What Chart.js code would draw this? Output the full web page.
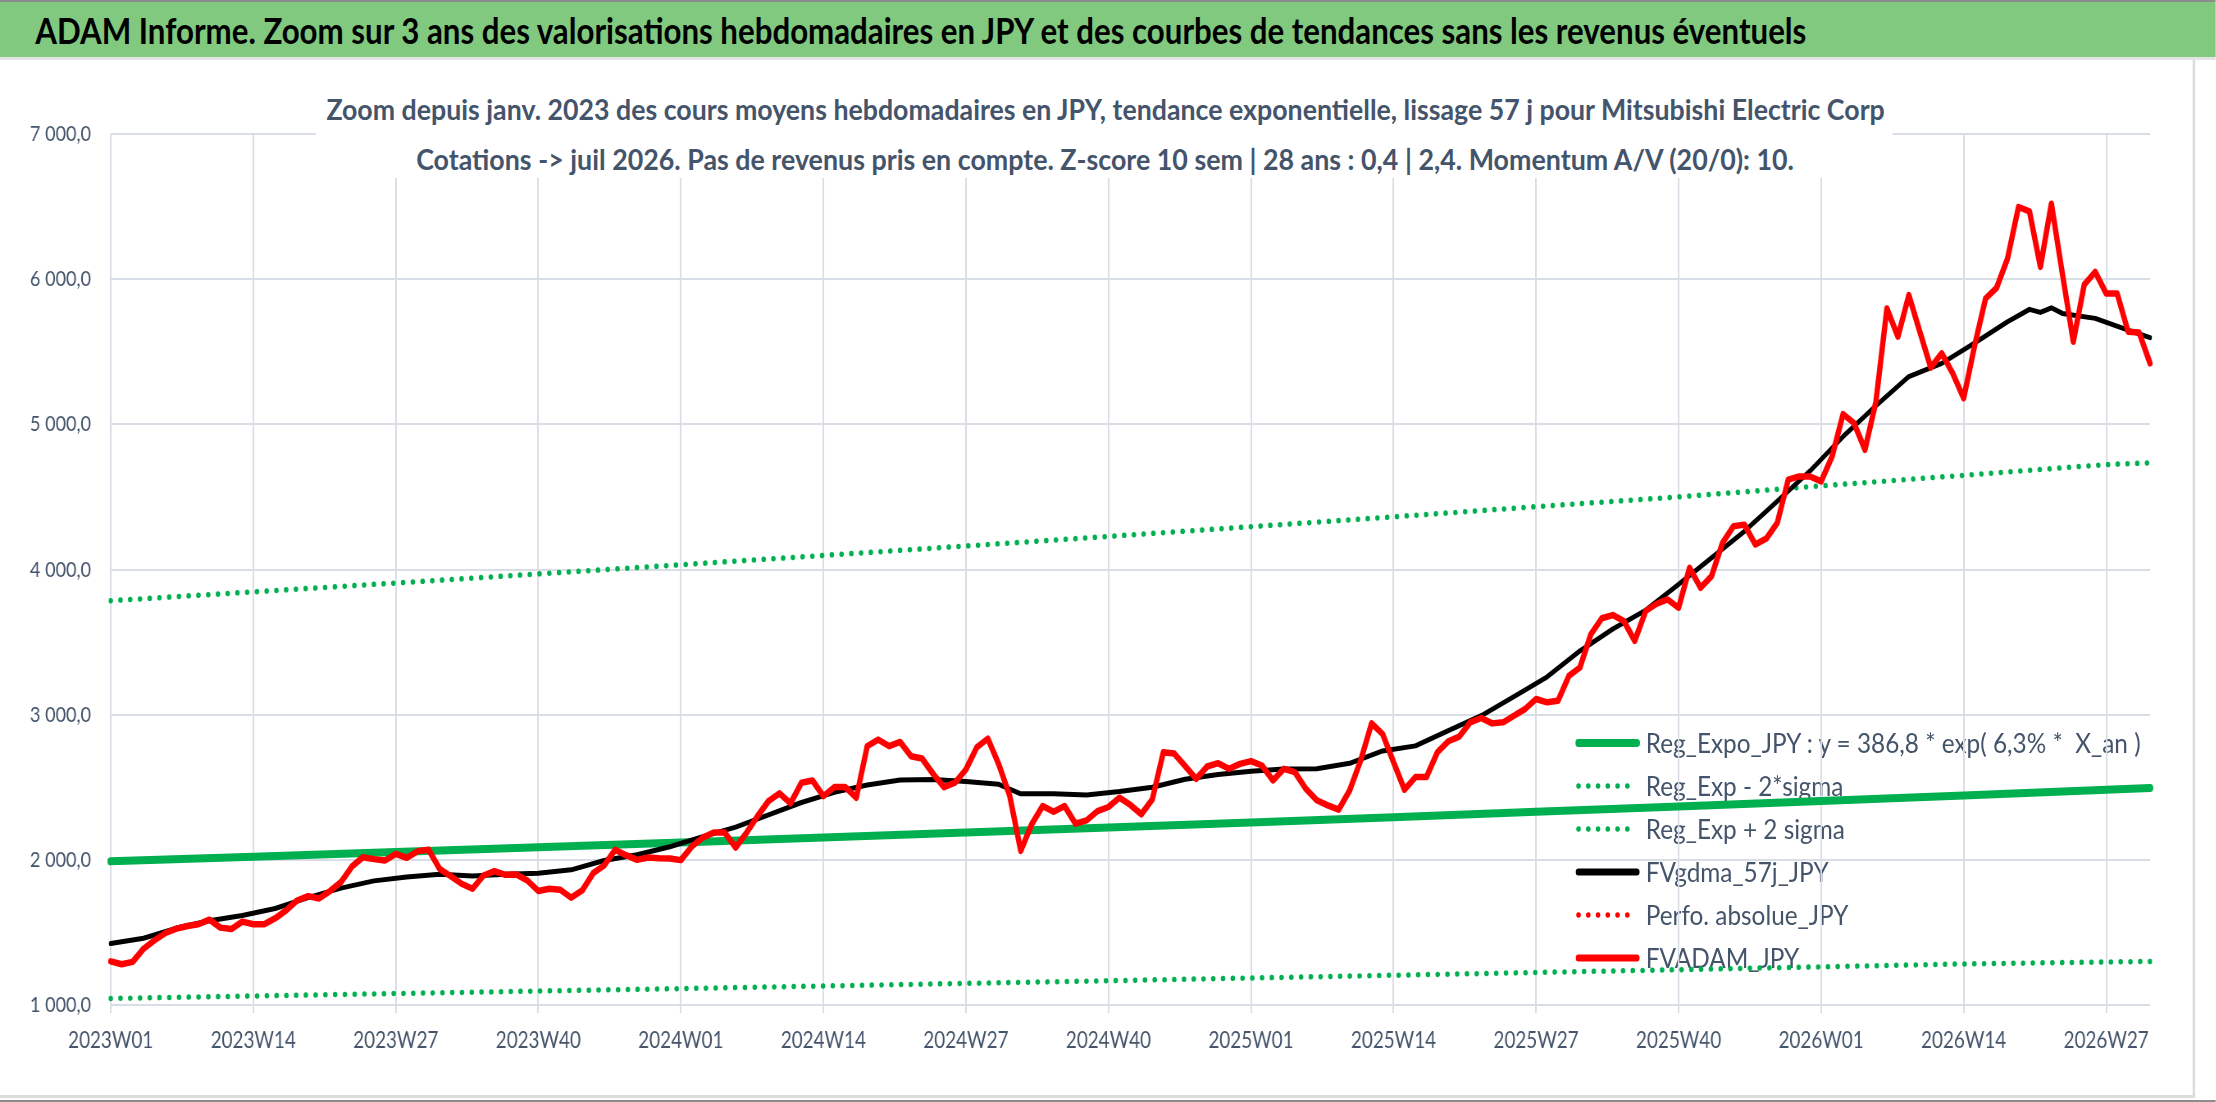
<!DOCTYPE html>
<html lang="fr">
<head>
<meta charset="utf-8">
<title>ADAM Informe - Mitsubishi Electric Corp (JPY)</title>
<script src="https://cdn.jsdelivr.net/npm/chart.js@4.4.1/dist/chart.umd.min.js"></script>
<style>
  html, body { margin: 0; padding: 0; background: #fff; overflow: hidden; }
  body { width: 2216px; height: 1102px; position: relative; }
  /* the whole picture is drawn 0.82x narrower, like the reference's condensed text */
  #stage { position: absolute; left: 0; top: 0; width: 2702px; height: 1102px;
           transform: scaleX(0.82); transform-origin: 0 0; font-family: Lato, 'Noto Sans', sans-serif; }
  #topline { position: absolute; left: 0; top: 0; width: 100%; height: 2px; background: #8c8c8c; }
  #banner { position: absolute; left: 0; top: 2px; width: 100%; height: 55px; background: #80C97E; }
  #banner span { position: absolute; left: 43px; top: 6px; font-size: 36px; font-weight: 700; color: #000;
                 line-height: 44px; white-space: pre; transform-origin: 0 50%; }
  #sep { position: absolute; left: 0; top: 57px; width: 100%; height: 3px; background: #e4e4e4; }
  #frameR { position: absolute; left: 2674px; top: 60px; width: 3px; height: 1037px; background: #dcdcdc; }
  #frameB { position: absolute; left: 0; top: 1095px; width: 2677px; height: 3px; background: #dcdcdc; }
  #botline { position: absolute; left: 0; top: 1100px; width: 100%; height: 2px; background: #8c8c8c; }
  #legend { position: absolute; left: 1921px; top: 721px; }
  .row { display: flex; align-items: center; height: 43px; }
  .row svg { flex: none; }
  .row span { margin-left: 7px; font-size: 26px; color: #44546A; white-space: pre; transform-origin: 0 50%;
              display: inline-block; line-height: 30px; }
  #chartBox { position: absolute; left: 0; top: 62px; width: 2702px; height: 1030px; }
  #titleBox { position: absolute; left: 385px; top: 72px; width: 1923px; height: 106px; background: #fff; }
  .sub { position: absolute; left: 348px; width: 2000px; text-align: center; }
  .sub span { display: inline-block; font-size: 28px; font-weight: 700; color: #44546A; white-space: pre;
              line-height: 34px; transform-origin: 50% 50%; }
</style>
</head>
<body>
<div id="stage">
  <div id="topline"></div>
  <div id="banner"><span id="mainTitle">ADAM Informe. Zoom sur 3 ans des valorisations hebdomadaires en JPY et des courbes de tendances sans les revenus éventuels</span></div>
  <div id="sep"></div>
  <div id="legend"></div>
  <div id="chartBox"><canvas id="chart"></canvas></div>
  <div id="titleBox"></div>
  <div class="sub" style="top:92px"><span id="sub1">Zoom depuis janv. 2023 des cours moyens hebdomadaires en JPY, tendance exponentielle, lissage 57 j pour Mitsubishi Electric Corp</span></div>
  <div class="sub" style="top:142px"><span id="sub2">Cotations -&gt; juil 2026. Pas de revenus pris en compte. Z-score 10 sem | 28 ans : 0,4 | 2,4. Momentum A/V (20/0): 10.</span></div>
  <div id="frameR"></div>
  <div id="frameB"></div>
  <div id="botline"></div>
</div>
<script>
// weeks shown: 2023W01 .. 2026W31
const weekYears = [2023, 2024, 2025, 2026];
const weeksPerYear = [52, 52, 52, 31];
const tickLabels = ['2023W01', '2023W14', '2023W27', '2023W40', '2024W01', '2024W14', '2024W27', '2024W40',
                    '2025W01', '2025W14', '2025W27', '2025W40', '2026W01', '2026W14', '2026W27'];

// FVADAM_JPY, weekly average price (one value per week)
const fvadamJpy = [1301, 1281, 1297, 1388, 1446, 1496, 1526, 1544, 1556, 1588,
  1533, 1523, 1574, 1556, 1556, 1597, 1652, 1720, 1750, 1734,
  1785, 1847, 1954, 2018, 2005, 1995, 2041, 2014, 2060, 2069,
  1938, 1888, 1835, 1801, 1892, 1922, 1897, 1899, 1858, 1785,
  1801, 1794, 1739, 1789, 1908, 1961, 2069, 2032, 2000, 2016,
  2011, 2009, 1998, 2092, 2153, 2188, 2188, 2085, 2188, 2302,
  2405, 2458, 2389, 2531, 2547, 2439, 2501, 2501, 2428, 2783,
  2828, 2783, 2812, 2714, 2698, 2593, 2501, 2531, 2622, 2776,
  2835, 2657, 2439, 2062, 2245, 2371, 2332, 2371, 2249, 2272,
  2336, 2364, 2428, 2378, 2314, 2416, 2741, 2732, 2645, 2558,
  2643, 2666, 2627, 2661, 2680, 2650, 2547, 2627, 2604, 2490,
  2410, 2375, 2346, 2478, 2684, 2940, 2867, 2673, 2483, 2570,
  2570, 2741, 2817, 2849, 2947, 2977, 2940, 2947, 2993, 3039,
  3108, 3085, 3096, 3268, 3325, 3554, 3664, 3686, 3645, 3508,
  3714, 3764, 3794, 3737, 4011, 3874, 3954, 4183, 4298, 4309,
  4172, 4213, 4321, 4619, 4641, 4641, 4607, 4779, 5070, 5008,
  4825, 5157, 5798, 5604, 5890, 5638, 5391, 5489, 5352, 5180,
  5542, 5867, 5940, 6142, 6497, 6467, 6085, 6520, 6039, 5569,
  5963, 6050, 5901, 5901, 5638, 5633, 5420];

// FVgdma_57j_JPY, smoothed curve read every few weeks (week index -> value)
const gdmaWeeks = [0, 3, 6, 9, 12, 15, 18, 21, 24, 27, 30, 33, 36, 39, 42, 45, 48, 51, 54, 57,
  60, 63, 66, 69, 72, 75, 78, 81, 83, 86, 89, 92, 95, 98, 101, 104, 107, 110, 113, 116,
  119, 122, 125, 128, 131, 134, 137, 140, 143, 146, 149, 152, 155, 158, 161, 164, 167, 170, 173, 175,
  176, 177, 178, 181, 184, 186];
const fvgdmaJpy = [1423, 1460, 1530, 1580, 1617, 1665, 1740, 1805, 1855, 1882, 1900, 1888, 1900, 1908, 1931, 1995, 2035, 2090, 2160, 2225,
  2310, 2395, 2465, 2515, 2550, 2554, 2540, 2520, 2455, 2455, 2447, 2470, 2500, 2555, 2588, 2611, 2625, 2627, 2665, 2750,
  2785, 2890, 2993, 3125, 3260, 3439, 3590, 3720, 3897, 4080, 4263, 4470, 4680, 4916, 5128, 5329, 5420, 5560, 5707, 5792,
  5771, 5803, 5764, 5730, 5649, 5597];

// exponential regression and its +/- 2 sigma band, read at each labelled week
const trendWeeks = [0, 13, 26, 39, 52, 65, 78, 91, 104, 117, 130, 143, 156, 169, 182, 186];
const regExpoJpy = [1990, 2022, 2054, 2087, 2120, 2154, 2188, 2223, 2258, 2294, 2331, 2368, 2406, 2444, 2483, 2495];
const regMinus2Sigma = [1045, 1062, 1079, 1096, 1113, 1131, 1149, 1167, 1186, 1205, 1224, 1243, 1263, 1283, 1296, 1300];
const regPlus2Sigma = [3785, 3846, 3907, 3970, 4033, 4097, 4162, 4228, 4295, 4363, 4433, 4500, 4576, 4649, 4723, 4735];

// Perfo. absolue_JPY has no visible points in this zoom
const perfoAbsolueJpy = [];

const weekLabels = [];
weekYears.forEach((y, k) => {
  for (let w = 1; w <= weeksPerYear[k]; w++) weekLabels.push(y + 'W' + String(w).padStart(2, '0'));
});

const sparse = (weeks, values) => weeks.map((w, k) => ({ x: weekLabels[w], y: values[k] }));

function fmtFr(v) {
  const [i, d] = v.toFixed(1).split('.');
  return i.replace(/\B(?=(\d{3})+(?!\d))/g, ' ') + ',' + d;
}

const DOTS = [0.1, 11.8];
const GREEN = '#00B050';

// first dataset is painted on top
const datasets = [
  { label: 'FVADAM_JPY', data: fvadamJpy, borderColor: '#FF0000', borderWidth: 6.5 },
  { label: 'FVgdma_57j_JPY', data: sparse(gdmaWeeks, fvgdmaJpy), borderColor: '#000000', borderWidth: 5 },
  { label: 'Reg_Expo_JPY : y = 386,8 * exp( 6,3% *  X_an )', data: sparse(trendWeeks, regExpoJpy), borderColor: GREEN, borderWidth: 8 },
  { label: 'Reg_Exp - 2*sigma', data: sparse(trendWeeks, regMinus2Sigma), borderColor: GREEN, borderWidth: 5.5, borderDash: DOTS },
  { label: 'Reg_Exp + 2 sigma', data: sparse(trendWeeks, regPlus2Sigma), borderColor: GREEN, borderWidth: 5.5, borderDash: DOTS },
  { label: 'Perfo. absolue_JPY', data: perfoAbsolueJpy, borderColor: '#FF0000', borderWidth: 4, borderDash: DOTS }
];
datasets.forEach(d => { d.pointRadius = 0; d.borderCapStyle = 'round'; d.borderJoinStyle = 'round'; d.tension = 0; d.fill = false; });

const axisText = '#44546A';
const gridColor = '#D9DEE6';

const chart = new Chart(document.getElementById('chart'), {
  type: 'line',
  data: { labels: weekLabels, datasets: datasets },
  options: {
    responsive: true,
    maintainAspectRatio: false,
    animation: false,
    layout: { padding: { top: 72, right: 80, bottom: 37, left: 0 } },
    plugins: { legend: { display: false }, tooltip: { enabled: false } },
    scales: {
      x: {
        type: 'category',
        offset: false,
        border: { display: false },
        grid: { color: gridColor, lineWidth: 2, tickLength: 8 },
        ticks: {
          autoSkip: false, maxRotation: 0, minRotation: 0, padding: 14, color: axisText,
          font: { family: 'Lato', size: 23 },
          callback: function (value) {
            const lab = this.getLabelForValue(value);
            return tickLabels.includes(lab) ? lab : null;
          }
        },
        afterFit: s => { s.height = 50; }
      },
      y: {
        min: 1000, max: 7000,
        border: { display: false },
        grid: { color: gridColor, lineWidth: 2, drawTicks: false },
        ticks: { stepSize: 1000, padding: 24, color: axisText, font: { family: 'Lato', size: 22 }, callback: v => fmtFr(v) },
        afterFit: s => { s.width = 135; }
      }
    }
  }
});

// legend in the reference order, drawn from the datasets' own styles
const legendOrder = [2, 3, 4, 1, 5, 0];
const legendBox = document.getElementById('legend');
legendOrder.forEach(k => {
  const d = datasets[k];
  const row = document.createElement('div');
  row.className = 'row';
  const dash = d.borderDash ? ` stroke-dasharray="${d.borderDash.join(' ')}"` : '';
  const w = d.borderDash ? 5.5 : Math.max(d.borderWidth, 7);
  row.innerHTML = `<svg width="79" height="14"><line x1="4" y1="7" x2="75" y2="7" stroke="${d.borderColor}" stroke-width="${w}" stroke-linecap="round"${dash}/></svg><span>${d.label}</span>`;
  legendBox.appendChild(row);
});

// squeeze the texts to the widths they take in the reference
function fit(el, target) {
  const w = el.offsetWidth;
  if (w > 0) el.style.transform = `scaleX(${target / w})`;
  return target / w;
}
fit(document.getElementById('mainTitle'), 2160);
fit(document.getElementById('sub1'), 1901);
fit(document.getElementById('sub2'), 1680);
const spans = legendBox.querySelectorAll('span');
const k0 = spans[0].offsetWidth ? 604 / spans[0].offsetWidth : 1;
spans.forEach(s => { s.style.transform = `scaleX(${k0})`; });
</script>
</body>
</html>
